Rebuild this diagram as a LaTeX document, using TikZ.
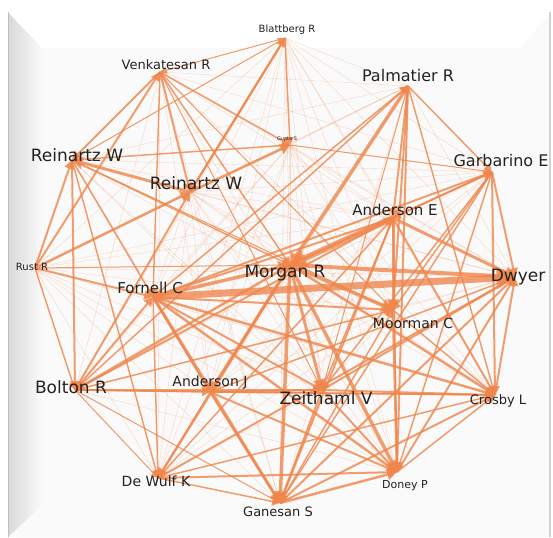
\documentclass[tikz,border=0pt]{standalone}
\usepackage{fontspec}
\usetikzlibrary{arrows.meta}
\newfontfamily\authfont{DejaVu Sans}
\definecolor{edgeor}{RGB}{239,134,76}
\definecolor{lbltxt}{RGB}{34,34,34}
\newcommand{\lblsize}[1]{\fontsize{#1}{#1}\selectfont}
\tikzstyle{authpt}=[coordinate]
\tikzstyle{authlbl}=[font=\authfont, text=lbltxt, inner sep=0pt]
\tikzstyle{faintedge}=[draw, edgeor, opacity=0.3, line width=0.4pt]
\tikzstyle{wedge}=[draw, edgeor, opacity=0.78, -{Triangle[length=5pt 1.9, width=5pt 2.3]}]

\begin{document}
\begin{tikzpicture}[x=1pt, y=-1pt]

\useasboundingbox (0,0) rectangle (553,537);

% frame
   \fill[white] (0,0) rectangle (553,537);
   \fill[gray!4] (8,12) rectangle (551,537);
   \shade[left color=gray!30, right color=gray!4] (8,12) -- (42,48) -- (42,505) -- (8,537) -- cycle;
   \fill[white] (8,12) -- (551,12) -- (520,48) -- (42,48) -- cycle;
   \draw[gray!35, line width=1.5pt] (550,12) -- (550,537);
   \draw[gray!50, line width=0.8pt] (8.5,12) -- (8.5,537);

% Authors
    \foreach \pos/\name in {{(285,38)/blatt}, {(160,72)/venk}, {(408,86)/palm}, {(290,145)/gupta},
                            {(72,160)/reinA}, {(190,192)/reinB}, {(492,172)/garb}, {(393,218)/andE},
                            {(35,268)/rust}, {(290,265)/morg}, {(153,297)/forn}, {(515,277)/dwyer},
                            {(393,310)/moor}, {(75,390)/bolt}, {(210,392)/andJ}, {(322,390)/zeit},
                            {(495,395)/crosby}, {(158,478)/dewulf}, {(397,472)/doney}, {(280,503)/gane}}
        \node[authpt] (\name) at \pos {};

 % Edges
   \def\authlist{blatt,venk,palm,gupta,reinA,reinB,garb,andE,rust,morg,forn,dwyer,moor,bolt,andJ,zeit,crosby,dewulf,doney,gane}
   %faint
   \foreach \a [count=\i] in \authlist
      \foreach \b [count=\j] in \authlist
         {\ifnum\j>\i \path[faintedge] (\a) -- (\b); \fi}

   %weighted
   \foreach \source/\dest/\weight in {reinA/gupta/1.5, reinA/bolt/2, reinA/forn/1.5, reinA/morg/1.5, reinA/moor/1, reinA/dewulf/1.5,
            reinA/blatt/1, blatt/venk/1, blatt/gupta/1.5, blatt/reinB/2, reinB/blatt/2,
            venk/reinA/2, venk/reinB/2, venk/gupta/1.5, venk/forn/1.5, venk/morg/1.5, venk/zeit/1, venk/moor/1,
            rust/venk/2, rust/reinA/2, rust/reinB/2.5, rust/forn/2, rust/bolt/1.5, rust/morg/1,
            reinB/gupta/2.5, reinB/reinA/3, gupta/garb/1,
            forn/palm/1.5, bolt/palm/1.5, palm/andE/2, palm/moor/2, palm/doney/2, palm/crosby/1.5, palm/garb/1.5, palm/zeit/1,
            garb/andE/1.5, garb/dwyer/2, garb/crosby/2, garb/morg/2, garb/zeit/1.5, garb/moor/1.5, garb/gane/1.5, garb/doney/1.5,
            andE/crosby/2, andE/forn/2, andE/gane/2, andE/doney/1.5, andE/zeit/1.5, dewulf/andE/1.5, bolt/andE/2,
            bolt/reinB/2, bolt/forn/2, bolt/zeit/2, bolt/crosby/1.5, bolt/dewulf/1, bolt/gane/1, bolt/moor/1.5, bolt/andJ/1.5,
            dewulf/doney/2, dewulf/dwyer/2, dewulf/crosby/1.5, dewulf/gane/1.5, andJ/dewulf/1,
            gane/doney/2.5, gane/crosby/2, gane/dwyer/2, andJ/gane/2, zeit/gane/2, gane/moor/1.5,
            doney/crosby/1.5, doney/dwyer/2, moor/doney/2.5, crosby/dwyer/2, moor/crosby/1.5,
            zeit/crosby/2, zeit/dwyer/2, zeit/doney/2, andJ/zeit/2, andJ/crosby/1.5, andJ/doney/2, andJ/dwyer/1.5,
            forn/gane/3, forn/doney/2.5, forn/crosby/2.5, forn/moor/2, forn/zeit/2, forn/andJ/2, forn/dewulf/1.5, forn/garb/2,
            morg/bolt/2.5, morg/crosby/2.5, morg/dewulf/2.5, morg/zeit/3, morg/andJ/3, morg/gane/3.5, morg/doney/3.5,
            morg/moor/3.5, andE/moor/3, andE/dwyer/3, forn/morg/3.5, morg/dwyer/4, palm/morg/3.5,
            andE/morg/6, forn/dwyer/7}
        \path[wedge, line width=\weight pt] (\source) -- (\dest);

%Label
    \foreach \pos/\name/\txt/\sz in {{(287,30)/blattL/Blattberg R/10}, {(166,65)/venkL/Venkatesan R/13},
                                     {(408,76)/palmL/Palmatier R/16}, {(287,139)/guptaL/Gupta S/5},
                                     {(77,155)/reinAL/Reinartz W/17}, {(196,183)/reinBL/Reinartz W/17},
                                     {(501,161)/garbL/Garbarino E/16}, {(395,210)/andEL/Anderson E/15},
                                     {(32,267)/rustL/Rust R/10}, {(285,273)/morgL/Morgan R/17},
                                     {(150,288)/fornL/Fornell C/15}, {(518,277)/dwyerL/Dwyer/17},
                                     {(413,323)/moorL/Moorman C/14}, {(71,387)/boltL/Bolton R/17},
                                     {(210,383)/andJL/Anderson J/14}, {(326,398)/zeitL/Zeithaml V/17},
                                     {(498,401)/crosbyL/Crosby L/13}, {(156,481)/dewulfL/De Wulf K/14},
                                     {(405,486)/doneyL/Doney P/11}, {(278,512)/ganeL/Ganesan S/13}}
        \node[authlbl, font=\authfont\lblsize{\sz}] (\name) at \pos {\txt};

\end{tikzpicture}
\end{document}
